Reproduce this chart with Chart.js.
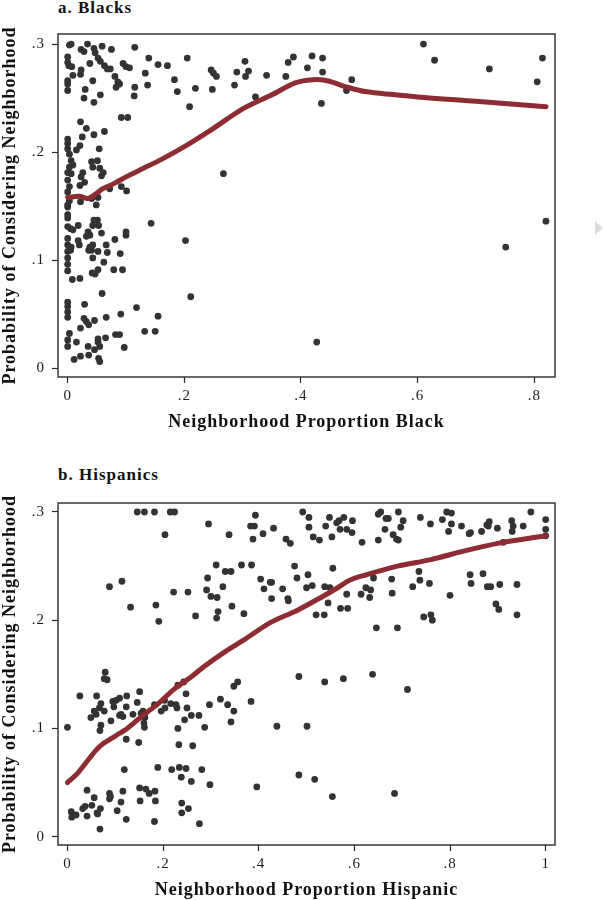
<!DOCTYPE html>
<html>
<head>
<meta charset="utf-8">
<script src="https://cdn.jsdelivr.net/npm/chart.js@4"></script>
<style>
  html, body { margin: 0; padding: 0; background: #fff; }
  body { width: 604px; height: 900px; position: relative; overflow: hidden; font-family: "Liberation Serif", "DejaVu Serif", serif; }
  .ttl { position: absolute; left: 58px; font-weight: bold; font-size: 17px; letter-spacing: 1px; color: #111; line-height: 18px; white-space: nowrap; }
  .box { position: absolute; left: 0; width: 604px; }
  .tri { position: absolute; left: 595px; top: 221px; width: 0; height: 0; border-top: 7px solid transparent; border-bottom: 7px solid transparent; border-left: 8px solid #dcdcdc; }
</style>
</head>
<body>
<div class="ttl" style="top:-1px">a. Blacks</div>
<div class="ttl" style="top:466px">b. Hispanics</div>
<div class="tri"></div>
<div class="box" style="top:0;height:440px"><canvas id="c1"></canvas></div>
<div class="box" style="top:460px;height:442px"><canvas id="c2"></canvas></div>
<script>
// ---------- Panel a: Blacks ----------
const blackX = [
0.003,0.006,0.034,0.023,0.028,0.045,0.047,0.059,0.075,0.115,0,0,0.002,0.007,0.038,0.052,0.056,0.063,0.068,0.073,
0.095,0.1,0.106,0.139,0.155,0.171,0.205,0.133,0.023,0.022,0.009,0,0,0,0.043,0.081,0.086,0.089,0.083,0.115,
0.114,0.137,0.183,0.188,0.219,0.030,0.028,0.045,0.056,0.209,0.092,0.103,0.022,0.032,0.045,0.063,0.025,0,0,0,
0.003,0.021,0.015,0.054,0.006,0.009,0.003,0,0.006,0.041,0.051,0.043,0.055,0.061,0.058,0.026,0.023,0.029,0.021,0,
0.003,0,0.072,0.092,0.101,0.003,0.022,0.041,0.052,0,0.049,
0.246,0.250,0.255,0.248,0.267,0.286,0.290,0.304,0.310,0.305,0.322,0.341,0.374,0.378,0.387,
0.419,0.411,0.437,0.437,0.435,0.478,0.487,0.610,0.629,0.723,0.814,0.805,
0.820,0.751,0.427,
0,0,0,0,0.018,0.005,0.009,0.045,0.051,0.053,0.043,0.035,0.038,0.032,0.058,0.1,0.1,0.081,0.143,0.202,
0,0,0,0,0,0,0.006,0.005,0.018,0.020,0.038,0.041,0.043,0.036,0.052,0.066,0.068,0.090,0.043,0.062,
0.052,0.042,0.047,0.079,0.094,0.008,0.021,0.059,0.211,0,0,0,0,0.029,0.118,0.028,0.032,0.036,0.046,0.066,
0.091,0.155,0.022,0.003,0,0,0.015,0.052,0.052,0.065,0.082,0.089,0.132,0.150,0.035,0.046,0.055,0.097,0.011,0.022,
0.036,0.053,0.055
];
const blackY = [
0.299,0.300,0.300,0.295,0.293,0.296,0.292,0.298,0.295,0.297,0.288,0.283,0.280,0.279,0.282,0.287,0.284,0.280,0.277,0.277,
0.282,0.279,0.278,0.287,0.281,0.280,0.287,0.273,0.276,0.272,0.271,0.266,0.263,0.257,0.266,0.270,0.265,0.263,0.260,0.260,
0.252,0.262,0.267,0.256,0.259,0.258,0.250,0.246,0.253,0.242,0.232,0.232,0.228,0.222,0.216,0.219,0.214,0.212,0.208,0.203,
0.198,0.206,0.202,0.203,0.192,0.188,0.186,0.181,0.180,0.191,0.192,0.186,0.185,0.181,0.178,0.181,0.177,0.172,0.169,0.174,
0.168,0.163,0.166,0.168,0.164,0.155,0.154,0.157,0.158,0.151,0.151,
0.276,0.273,0.270,0.258,0.180,0.262,0.274,0.284,0.275,0.270,0.251,0.271,0.270,0.283,0.288,
0.289,0.278,0.287,0.274,0.245,0.257,0.267,0.300,0.285,0.277,0.287,0.265,
0.136,0.112,0.024,
0.149,0.142,0.139,0.131,0.132,0.129,0.128,0.137,0.137,0.132,0.132,0.126,0.123,0.122,0.125,0.126,0.123,0.119,0.134,0.118,
0.120,0.114,0.108,0.102,0.096,0.090,0.112,0.109,0.118,0.114,0.112,0.109,0.114,0.109,0.108,0.114,0.107,0.106,0.102,0.098,
0.091,0.088,0.087,0.091,0.091,0.082,0.083,0.069,0.066,0.061,0.057,0.052,0.047,0.059,0.056,0.046,0.043,0.040,0.044,0.047,
0.050,0.048,0.037,0.032,0.026,0.020,0.024,0.027,0.024,0.028,0.031,0.031,0.034,0.034,0.020,0.017,0.020,0.019,0.008,0.011,
0.012,0.009,0.006
];
const blackFitX = [0,0.02,0.035,0.05,0.06,0.08,0.1,0.13,0.16,0.2,0.25,0.3,0.35,0.39,0.42,0.445,0.48,0.51,0.6,0.7,0.82];
const blackFitY = [0.158,0.159,0.157,0.162,0.166,0.171,0.177,0.185,0.193,0.205,0.222,0.240,0.253,0.264,0.267,0.266,0.260,0.256,0.251,0.247,0.242];
const blackXTicks = [0,0.2,0.4,0.6,0.8];
const blackXTickLabels = ['0','.2','.4','.6','.8'];

// ---------- Panel b: Hispanics ----------
const hispX = [
0.146,0.161,0.182,0.215,0.224,0.204,0.295,0.338,0.393,0.383,0.391,0.388,0.409,0.431,0.457,0.466,0.088,0.114,0.132,0.185,
0.191,0.222,0.252,0.268,0.291,0.300,0.313,0.293,0.311,0.330,0.342,0.325,0.344,0.315,0.312,0.364,0.385,0.369,0.404,0.411,
0.424,0.427,0.427,0.450,0.461,0.462,0.475,0.480,
0.492,0.505,0.505,0.514,0.527,0.540,0.548,0.553,0.563,0.568,0.578,0.570,0.584,0.596,0.595,0.616,0.650,0.655,0.666,0.671,
0.664,0.650,0.692,0.702,0.697,0.681,0.688,0.692,0.738,0.759,0.784,0.793,0.803,0.803,0.797,0.824,0.840,0.843,0.866,0.877,
0.882,0.880,0.899,0.911,0.929,0.932,0.930,0.953,0.969,1.0,1.0,1.0,0.503,0.500,0.512,0.555,0.538,0.549,0.545,0.571,
0.586,0.584,0.614,0.624,0.634,0.632,0.640,0.678,0.679,0.520,0.537,0.646,0.690,0.722,0.735,0.737,0.757,0.745,0.760,0.763,
0.800,0.842,0.844,0.869,0.878,0.885,0.904,0.896,0.902,0.940,0.940,
0.484,0.538,0.577,0.638,0.711,0.501,0.484,0.517,0.554,0.684,
0.079,0.077,0.083,0.026,0.061,0.151,0.109,0.102,0.095,0.124,0.070,0.067,0.097,0.123,0.146,0.056,0.060,0.049,0.077,0.112,
0.116,0.109,0.137,0.091,0.154,0.158,0.161,0.162,0.160,0.161,0.070,0.068,0,0.123,0.149,0.182,0.196,0.204,0.203,0.216,
0.227,0.229,0.231,0.243,0.248,0.250,0.245,0.259,0.275,0.231,0.287,0.297,0.320,0.335,0.348,0.342,0.356,0.348,0.384,0.438,
0.233,0.262,0.119,0.189,0.218,0.234,0.248,0.238,0.259,0.281,0.298,0.396,0.041,0.056,0.088,0.090,0.088,0.116,0.151,0.164,
0.171,0.183,0.152,0.184,0.112,0.008,0.018,0.009,0.032,0.037,0.051,0.041,0.062,0.069,0.063,0.104,0.123,0.068,0.182,0.239,
0.239,0.253,0.276
];
const hispY = [
0.300,0.300,0.300,0.300,0.300,0.279,0.289,0.279,0.297,0.287,0.287,0.275,0.280,0.285,0.275,0.271,0.231,0.236,0.212,0.214,
0.199,0.226,0.226,0.204,0.228,0.222,0.221,0.239,0.251,0.245,0.245,0.231,0.213,0.208,0.202,0.251,0.251,0.206,0.238,0.229,
0.235,0.235,0.220,0.229,0.220,0.218,0.250,0.239,
0.300,0.295,0.286,0.277,0.274,0.287,0.295,0.277,0.290,0.292,0.295,0.284,0.284,0.292,0.281,0.272,0.298,0.300,0.294,0.294,
0.284,0.274,0.300,0.292,0.286,0.279,0.275,0.274,0.295,0.289,0.293,0.300,0.299,0.289,0.282,0.287,0.280,0.281,0.282,0.288,
0.291,0.287,0.285,0.272,0.292,0.287,0.282,0.287,0.300,0.293,0.284,0.278,0.242,0.230,0.232,0.248,0.231,0.230,0.216,0.211,
0.211,0.224,0.224,0.230,0.228,0.221,0.239,0.238,0.225,0.205,0.205,0.193,0.193,0.231,0.245,0.237,0.234,0.203,0.205,0.200,
0.223,0.242,0.234,0.243,0.231,0.231,0.233,0.215,0.210,0.233,0.205,
0.148,0.143,0.146,0.150,0.136,0.102,0.057,0.053,0.037,0.040,
0.152,0.146,0.145,0.130,0.130,0.134,0.128,0.126,0.125,0.130,0.123,0.119,0.120,0.120,0.124,0.116,0.113,0.110,0.116,0.113,
0.111,0.112,0.113,0.107,0.114,0.116,0.113,0.110,0.105,0.101,0.103,0.098,0.101,0.090,0.087,0.122,0.116,0.119,0.126,0.123,
0.122,0.119,0.140,0.143,0.132,0.119,0.108,0.112,0.112,0.100,0.101,0.122,0.127,0.122,0.116,0.106,0.143,0.139,0.125,0.102,
0.085,0.084,0.062,0.064,0.062,0.064,0.063,0.055,0.051,0.062,0.048,0.046,0.043,0.036,0.040,0.037,0.035,0.042,0.045,0.044,
0.040,0.042,0.033,0.033,0.032,0.023,0.020,0.018,0.026,0.028,0.029,0.019,0.022,0.026,0.021,0.024,0.016,0.007,0.014,0.031,
0.022,0.026,0.012
];
const hispFitX = [0,0.02,0.04,0.06,0.075,0.1,0.125,0.155,0.19,0.225,0.26,0.285,0.33,0.37,0.425,0.48,0.53,0.565,0.59,0.625,0.69,0.76,0.83,0.9,1.0];
const hispFitY = [0.050,0.058,0.069,0.080,0.086,0.093,0.100,0.111,0.123,0.137,0.148,0.157,0.171,0.182,0.198,0.209,0.221,0.230,0.237,0.242,0.250,0.256,0.264,0.271,0.278];
const hispXTicks = [0,0.2,0.4,0.6,0.8,1];
const hispXTickLabels = ['0','.2','.4','.6','.8','1'];

const yTicks = [0,0.1,0.2,0.3];
const yTickLabels = ['0','.1','.2','.3'];

// ---------- shared drawing ----------
const INK = '#1c1c1c';
const DOT = '#333333';
const FIT = '#8e2c33';
const FONT = '"Liberation Serif", "DejaVu Serif", serif';

const frame = {
  id: 'frame',
  beforeDraw(chart) {
    try { chart.ctx.letterSpacing = '1px'; } catch (e) {}
  },
  afterDatasetsDraw(chart) {
    const a = chart.chartArea, c = chart.ctx;
    c.save();
    c.strokeStyle = '#2a2a2a';
    c.lineWidth = 1.4;
    c.strokeRect(a.left, a.top, a.right - a.left, a.bottom - a.top);
    c.restore();
  }
};

function zip(xs, ys) { return xs.map((x, i) => ({ x: x, y: ys[i] })); }

function makeChart(id, opt) {
  return new Chart(document.getElementById(id), {
    type: 'scatter',
    data: {
      datasets: [
        { type: 'line', data: zip(opt.fitX, opt.fitY), borderColor: FIT, borderWidth: 5,
          pointRadius: 0, tension: 0.3, fill: false, order: 0, borderCapStyle: 'round', borderJoinStyle: 'round' },
        { data: zip(opt.xs, opt.ys), backgroundColor: DOT, borderWidth: 0, pointRadius: 3.4, order: 1 }
      ]
    },
    options: {
      responsive: true, maintainAspectRatio: false, animation: false,
      layout: { padding: { left: 0, right: 49, top: opt.top, bottom: 0 } },
      plugins: { legend: { display: false }, tooltip: { enabled: false } },
      scales: {
        x: {
          type: 'linear', min: opt.xmin, max: opt.xmax,
          afterBuildTicks: s => { s.ticks = opt.xTicks.map(v => ({ value: v })); },
          afterFit: s => { s.height = opt.xh; },
          ticks: { callback: (v, i) => opt.xLabels[i], color: INK, font: { family: FONT, size: 15 }, padding: 4, maxRotation: 0 },
          grid: { display: true, drawOnChartArea: false, drawTicks: true, tickLength: 6, tickColor: '#2a2a2a', tickWidth: 1.2 },
          border: { display: false },
          title: { display: true, text: opt.xTitle, color: '#111', font: { family: FONT, size: 18, weight: 'bold' }, padding: { top: 0, bottom: opt.xtp } }
        },
        y: {
          type: 'linear', min: opt.ymin, max: opt.ymax,
          afterBuildTicks: s => { s.ticks = yTicks.map(v => ({ value: v })); },
          afterFit: s => { s.width = 58; },
          ticks: { callback: (v, i) => yTickLabels[i], color: INK, font: { family: FONT, size: 15 }, padding: 7 },
          grid: { display: true, drawOnChartArea: false, drawTicks: true, tickLength: 6, tickColor: '#2a2a2a', tickWidth: 1.2 },
          border: { display: false },
          title: { display: true, text: 'Probability of Considering Neighborhood', color: '#111', font: { family: FONT, size: 18, weight: 'bold' }, padding: { top: 0, bottom: 0 } }
        }
      }
    },
    plugins: [frame]
  });
}

makeChart('c1', {
  xs: blackX, ys: blackY, fitX: blackFitX, fitY: blackFitY,
  xTicks: blackXTicks, xLabels: blackXTickLabels, xTitle: 'Neighborhood Proportion Black',
  xmin: -0.0166, xmax: 0.8355, ymin: -0.0083, ymax: 0.3093, top: 34, xh: 63, xtp: 7
});
makeChart('c2', {
  xs: hispX, ys: hispY, fitX: hispFitX, fitY: hispFitY,
  xTicks: hispXTicks, xLabels: hispXTickLabels, xTitle: 'Neighborhood Proportion Hispanic',
  xmin: -0.0197, xmax: 1.0195, ymin: -0.0077, ymax: 0.3083, top: 43, xh: 57, xtp: 1
});
</script>
</body>
</html>
